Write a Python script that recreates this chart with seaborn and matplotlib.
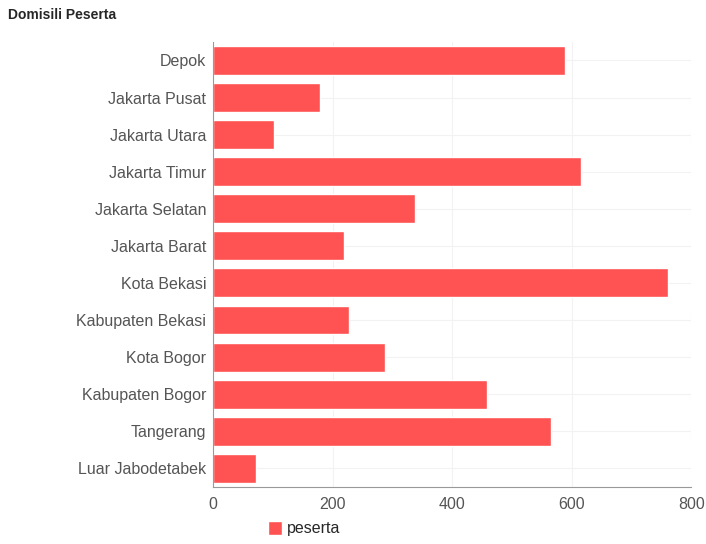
import matplotlib
matplotlib.use("Agg")
import matplotlib.pyplot as plt
import seaborn as sns
import pandas as pd

# ── Data ─────────────────────────────────────────────────────────────────────
domisili = ["Depok", "Jakarta Pusat", "Jakarta Utara", "Jakarta Timur", "Jakarta Selatan",
            "Jakarta Barat", "Kota Bekasi", "Kabupaten Bekasi", "Kota Bogor",
            "Kabupaten Bogor", "Tangerang", "Luar Jabodetabek"]
peserta = [589, 179, 102, 616, 338, 219, 761, 228, 288, 459, 566, 72]

df = pd.DataFrame({"domisili": domisili, "peserta": peserta})

sns.set_style("white")
plt.rcParams["font.family"] = ["Liberation Sans", "DejaVu Sans"]

fig = plt.figure(figsize=(7.06, 5.44), dpi=100)
ax = fig.add_axes([0.302, 0.105, 0.677, 0.818])

sns.barplot(data=df, y="domisili", x="peserta", color="#FF5252", saturation=1,
            width=0.78, ax=ax, label="peserta")

ax.set_xlim(0, 800)
ax.set_xticks([0, 200, 400, 600, 800])
ax.set_ylim(len(domisili) - 0.5, -0.5)
ax.set_xlabel("")
ax.set_ylabel("")
ax.grid(True, color="#f2f2f2", linewidth=0.8)
ax.set_axisbelow(True)
for s in ["top", "right"]:
    ax.spines[s].set_visible(False)
for s in ["left", "bottom"]:
    ax.spines[s].set_color("#999999")
ax.tick_params(axis="both", labelsize=11.5, colors="#555555", length=4, width=0.8)
ax.tick_params(axis="y", pad=1)

ax.legend(loc="upper center", bbox_to_anchor=(0.19, -0.045), frameon=False,
          fontsize=11.5, handlelength=0.9, handleheight=0.9, handletextpad=0.3)

fig.text(0.011, 0.972, "Domisili Peserta", fontsize=10, fontweight="bold", va="center")

fig.savefig("out.png", dpi=100)
